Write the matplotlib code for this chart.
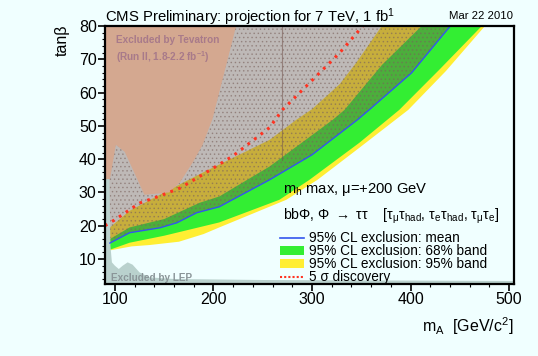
import numpy as np
import matplotlib
matplotlib.use("Agg")
import matplotlib.pyplot as plt
from matplotlib.ticker import MultipleLocator
from matplotlib.lines import Line2D
from matplotlib.patches import Patch

plt.rcParams['font.family'] = ['Liberation Sans', 'DejaVu Sans']
plt.rcParams['mathtext.fontset'] = 'custom'
plt.rcParams['mathtext.rm'] = 'Liberation Sans'
plt.rcParams['mathtext.it'] = 'Liberation Sans:italic'
plt.rcParams['mathtext.bf'] = 'Liberation Sans:bold'
plt.rcParams['mathtext.sf'] = 'Liberation Sans'
plt.rcParams['hatch.linewidth'] = 0.6

# ---------------- data ----------------
mean_x = [95, 115, 146, 163, 183, 206, 257, 300, 346, 358, 401, 437, 442]
mean_y = [14.8, 17.9, 19.4, 20.9, 23.9, 25.7, 33.8, 41.3, 51.8, 54.8, 65.9, 78.8, 80.5]

g_lo_x = [95, 115, 150, 206, 267, 297.5, 348, 388.6, 429, 474]
g_lo_y = [12.8, 14.9, 17.0, 21.0, 27.8, 33.8, 44.9, 54.8, 66.8, 80.5]
g_hi_x = [95, 115, 150, 186, 206, 257, 321, 333, 371, 413]
g_hi_y = [16.0, 19.5, 22.0, 26.9, 28.8, 37.8, 51.8, 54.8, 68.3, 80.5]

y_lo_x = [95, 117, 135, 165, 190, 206, 274, 305.6, 348, 397.7, 436, 477]
y_lo_y = [12.6, 13.8, 14.2, 15.2, 17.5, 19.5, 27.8, 33.8, 43.4, 54.8, 66.5, 80.5]
y_hi_x = [93, 115, 150, 186, 257, 284, 300, 328, 345, 372]
y_hi_y = [19.0, 24.5, 30.0, 35.5, 45.8, 51.8, 55.0, 62.5, 69.0, 80.5]

disc_x = [90, 100, 125, 146, 166, 186, 220, 257, 270, 328, 353]
disc_y = [20.0, 21.8, 26.8, 29.0, 31.3, 34.8, 41.0, 49.5, 54.8, 71.9, 80.5]

tev_x = [90, 90, 95, 101, 110, 130, 155, 166, 179, 189, 199, 223.5, 90]
tev_y = [80.5, 33.5, 34.0, 44.3, 42.2, 29.3, 30.0, 33.0, 39.0, 44.3, 52.0, 80.5, 80.5]

lep_x = [90, 90, 94.5, 95.5, 97, 100, 104, 108, 113, 118, 125, 135, 160, 250, 506, 506]
lep_y = [2.0, 34.0, 34.0, 14.0, 9.0, 8.0, 7.0, 8.0, 9.0, 8.3, 6.0, 4.5, 4.0, 3.7, 3.4, 2.0]

seam_x = 270

x_ticks = [100, 200, 300, 400, 500]
y_ticks = [10, 20, 30, 40, 50, 60, 70, 80]
xlim = (90, 505)
ylim = (2.5, 80)

legend_labels = ["95% CL exclusion: mean", "95% CL exclusion: 68% band",
                 "95% CL exclusion: 95% band", "5 σ discovery"]

# ---------------- styles ----------------
BG = "#f0ffff"
GREEN = "#33ee33"
YELLOW = "#ffee33"
BLUE = "#3355ee"
RED = "#ff3322"
TEV = "#d4a890"
LEP = "#b9d1cd"

fig = plt.figure(figsize=(5.38, 3.56), dpi=100, facecolor=BG)
ax = fig.add_axes([105/538, 1-284/356, (514-105)/538, (284-26)/356])
ax.set_facecolor(BG)
ax.set_xlim(*xlim)
ax.set_ylim(*ylim)

# bands
ax.fill(list(y_lo_x) + list(y_hi_x)[::-1], list(y_lo_y) + list(y_hi_y)[::-1],
        color=YELLOW, lw=0, zorder=1)
ax.fill(list(g_lo_x) + list(g_hi_x)[::-1], list(g_lo_y) + list(g_hi_y)[::-1],
        color=GREEN, lw=0, zorder=2)

# stippled expected-exclusion region (above mean)
ax.fill_between([xlim[0]] + mean_x, [mean_y[0]] + mean_y, 81,
                facecolor=(115/255, 80/255, 75/255, 0.40),
                edgecolor=(0.48, 0.38, 0.36, 0.5),
                hatch="....", lw=0, zorder=3)
ax.plot([seam_x, seam_x], [np.interp(seam_x, g_hi_x, g_hi_y) - 1, 81],
        color=(0.45, 0.33, 0.30, 0.55), lw=0.8, zorder=3.5)

# Tevatron and LEP regions
ax.fill(tev_x, tev_y, color=TEV, lw=0, zorder=4)
ax.fill(lep_x, lep_y, color=LEP, lw=0, zorder=4)

# lines
ax.plot(mean_x, mean_y, color=BLUE, lw=1.0, zorder=5)
ax.plot(disc_x, disc_y, color=RED, lw=2.2, ls=(0, (0.9, 1.8)), zorder=5)

# axes styling
for s in ax.spines.values():
    s.set_linewidth(1.6)
    s.set_zorder(10)
ax.xaxis.set_minor_locator(MultipleLocator(20))
ax.yaxis.set_minor_locator(MultipleLocator(2))
ax.set_xticks(x_ticks)
ax.set_yticks(y_ticks)
ax.tick_params(which="major", direction="out", length=5, width=1.2, labelsize=11.5, pad=1,
               top=False, right=False)
ax.tick_params(which="minor", direction="out", length=2.5, width=0.8, top=False, right=False)

# texts
fig.text(105/538, 1-17/356, "CMS Preliminary: projection for 7 TeV, 1 fb$^{1}$",
         fontsize=10.7, ha="left", va="center")
fig.text(513/538, 1-16/356, "Mar 22 2010", fontsize=8.2, ha="right", va="center")
fig.text(62/538, 1-40/356, "tanβ", fontsize=11.5, rotation=90, ha="center", va="center")
fig.text(513/538, 1-326/356, r"m$_\mathrm{A}$  [GeV/c$^2$]", fontsize=11.5, ha="right", va="center")

ax.text(101, 75.8, "Excluded by Tevatron", fontsize=7.2, fontweight="bold",
        color="#a87a8a", ha="left", va="center", zorder=6)
ax.text(101, 70.7, r"(Run II, 1.8-2.2 fb$^{\mathbf{-1}}$)", fontsize=7.2, fontweight="bold",
        color="#a87a8a", ha="left", va="center", zorder=6)
ax.text(95.6, 4.3, "Excluded by LEP", fontsize=7.2, fontweight="bold",
        color="#8a9598", ha="left", va="center", zorder=6)

fig.text(283/538, 1-190/356, r"m$_\mathrm{h}$ max, μ=+200 GeV", fontsize=10.6,
         ha="left", va="center")
fig.text(283/538, 1-216/356,
         r"bbΦ, Φ $\rightarrow$ ττ    [τ$_\mathrm{μ}$τ$_\mathrm{had}$, τ$_\mathrm{e}$τ$_\mathrm{had}$, τ$_\mathrm{μ}$τ$_\mathrm{e}$]",
         fontsize=10.2, ha="left", va="center")

handles = [Line2D([], [], color=BLUE, lw=1.2),
           Patch(facecolor=GREEN, edgecolor="none"),
           Patch(facecolor=YELLOW, edgecolor="none"),
           Line2D([], [], color=RED, lw=1.5, ls=(0, (1, 1)))]
leg = ax.legend(handles, legend_labels, loc="lower left",
                bbox_to_anchor=((279-105)/409, -0.0064), frameon=False, fontsize=9.8,
                handlelength=1.7, handleheight=0.7, handletextpad=0.4,
                labelspacing=-0.075, borderpad=0.1, borderaxespad=0.0)
leg.set_zorder(12)

fig.savefig("out.png", dpi=100, facecolor=BG)
